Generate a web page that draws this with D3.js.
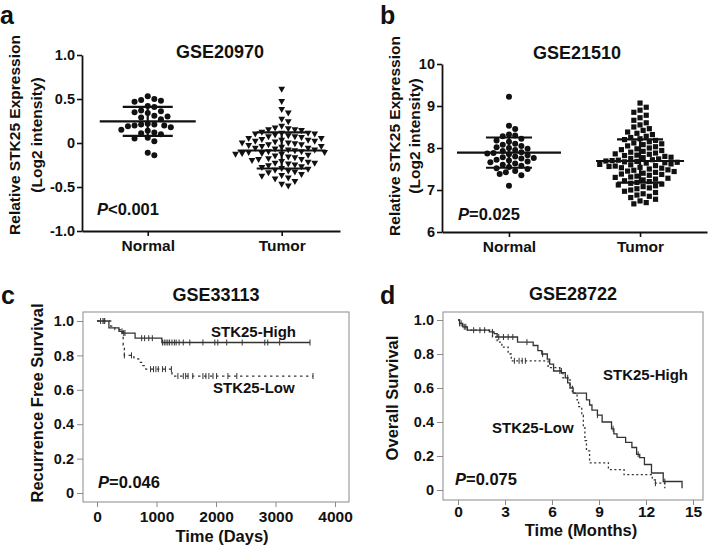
<!DOCTYPE html>
<html>
<head>
<meta charset="utf-8">
<script src="https://cdn.jsdelivr.net/npm/d3@7"></script>
<style>
body { margin: 0; background: #fff; }
svg { display: block; font-family: "Liberation Sans", Arial, sans-serif; }
text { fill: #111; font-weight: bold; }
</style>
</head>
<body>
<svg id="fig" width="709" height="548"></svg>
<script>
// ---- Data ----
const groups = ['Normal', 'Tumor'];

// panel a: GSE20970
const aNormal = [0.53, 0.50, 0.49, 0.48, 0.47, 0.42, 0.41, 0.37, 0.36, 0.35, 0.34, 0.31, 0.30, 0.29,
  0.27, 0.22, 0.21, 0.21, 0.20, 0.20, 0.19, 0.18, 0.15, 0.14, 0.12, 0.11, 0.10, 0.06, 0.05, 0.02, -0.11, -0.14];
const aTumor = [0.61, 0.47, 0.38, 0.34, 0.27, 0.24, 0.19, 0.17, 0.16, 0.15, 0.15, 0.14, 0.12, 0.11, 0.11,
  0.10, 0.10, 0.09, 0.08, 0.07, 0.07, 0.06, 0.05, 0.05, 0.04, 0.03, 0.03, 0.02, 0.02, 0.01, 0.00, 0.00,
  -0.01, -0.02, -0.02, -0.03, -0.04, -0.04, -0.05, -0.06, -0.06, -0.07, -0.08, -0.08, -0.09, -0.10, -0.10,
  -0.11, -0.11, -0.12, -0.12, -0.13, -0.13, -0.14, -0.15, -0.16, -0.17, -0.18, -0.19, -0.19, -0.20, -0.21,
  -0.22, -0.23, -0.23, -0.24, -0.25, -0.26, -0.27, -0.28, -0.29, -0.30, -0.31, -0.32, -0.33, -0.34, -0.36,
  -0.37, -0.38, -0.40, -0.41, -0.44, -0.47, -0.49];
const aMean = [0.245, -0.085];
const aSD = [0.165, 0.205];
const aTicks = [-1, -0.5, 0, 0.5, 1];
const aTickLabels = ['-1.0', '-0.5', '0', '0.5', '1.0'];

// panel b: GSE21510
const bNormal = [9.22, 8.53, 8.45, 8.32, 8.30, 8.28, 8.22, 8.18, 8.15, 8.10, 8.08, 8.05, 8.02, 8.00, 7.98,
  7.95, 7.93, 7.90, 7.88, 7.87, 7.85, 7.83, 7.80, 7.78, 7.76, 7.75, 7.72, 7.70, 7.68, 7.66, 7.63, 7.60,
  7.58, 7.55, 7.52, 7.50, 7.45, 7.42, 7.38, 7.35, 7.10];
const bTumor = [9.07, 8.97, 8.90, 8.85, 8.78, 8.72, 8.66, 8.60, 8.55, 8.50, 8.46, 8.42, 8.38, 8.35, 8.32,
  8.28, 8.25, 8.22, 8.20, 8.18, 8.15, 8.12, 8.10, 8.08, 8.05, 8.03, 8.00, 7.98, 7.96, 7.94, 7.92, 7.90,
  7.88, 7.86, 7.85, 7.83, 7.82, 7.80, 7.78, 7.77, 7.75, 7.74, 7.72, 7.71, 7.70, 7.69, 7.68, 7.67, 7.66,
  7.65, 7.64, 7.62, 7.61, 7.60, 7.58, 7.57, 7.56, 7.54, 7.53, 7.52, 7.50, 7.48, 7.47, 7.45, 7.44, 7.42,
  7.40, 7.38, 7.37, 7.35, 7.33, 7.31, 7.30, 7.28, 7.26, 7.24, 7.22, 7.20, 7.18, 7.16, 7.14, 7.12, 7.10,
  7.08, 7.05, 7.03, 7.00, 6.97, 6.94, 6.91, 6.88, 6.85, 6.82, 6.78, 6.74, 6.70, 6.67];
const bMean = [7.89, 7.69];
const bSD = [0.36, 0.515];
const bTicks = [6, 7, 8, 9, 10];

// panel c: GSE33113 recurrence free survival (days)
const cHighT = [0, 200, 370, 440, 640, 1090, 3580];
const cHighS = [1.0, 0.96, 0.94, 0.93, 0.90, 0.875, 0.875];
const cLowT = [0, 230, 300, 420, 440, 460, 620, 700, 760, 820, 1260, 3630];
const cLowS = [1.0, 0.97, 0.95, 0.93, 0.86, 0.80, 0.78, 0.76, 0.74, 0.72, 0.68, 0.68];
const cHighCens = [60, 120, 420, 450, 470, 750, 800, 870, 930, 1100, 1130, 1160, 1190, 1220, 1260, 1300,
  1330, 1380, 1450, 1560, 1780, 1980, 2030, 2180, 2440, 2820, 2870, 3070, 3580];
const cLowCens = [100, 130, 460, 580, 900, 950, 990, 1030, 1100, 1150, 1250, 1360, 1450, 1490, 1530, 1610,
  1780, 1830, 1880, 1950, 2010, 2200, 2350, 3630];
const cXTicks = [0, 1000, 2000, 3000, 4000];

// panel d: GSE28722 overall survival (months)
const dHighT = [0, 0.1, 0.3, 0.6, 2.0, 2.3, 2.5, 3.8, 4.8, 5.1, 5.35, 5.7, 5.85, 6.1, 6.6, 6.85, 7.0, 7.15,
  7.35, 8.2, 8.4, 8.55, 8.9, 9.2, 9.8, 9.95, 10.15, 10.7, 11.1, 11.4, 11.6, 11.9, 12.35, 13.1, 14.3];
const dHighS = [1.0, 0.98, 0.96, 0.94, 0.93, 0.92, 0.90, 0.87, 0.85, 0.82, 0.80, 0.77, 0.74, 0.70, 0.69,
  0.66, 0.63, 0.60, 0.57, 0.53, 0.50, 0.47, 0.44, 0.40, 0.36, 0.33, 0.31, 0.28, 0.25, 0.21, 0.19, 0.15,
  0.10, 0.05, 0.01];
const dLowT = [0, 0.1, 0.3, 0.6, 2.2, 2.5, 2.8, 3.2, 3.4, 5.75, 6.5, 6.7, 7.15, 7.3, 7.6, 7.7, 7.9, 8.0,
  8.1, 8.2, 8.4, 9.6, 10.6, 12.4, 12.6, 13.2];
const dLowS = [1.0, 0.98, 0.96, 0.94, 0.90, 0.87, 0.84, 0.80, 0.76, 0.72, 0.70, 0.66, 0.61, 0.57, 0.53,
  0.49, 0.44, 0.37, 0.29, 0.23, 0.16, 0.12, 0.09, 0.06, 0.04, 0.01];
const dHighCens = [0.2, 0.5, 1.0, 1.4, 1.7, 2.2, 2.6, 2.9, 3.2, 3.5, 4.4, 5.4, 6.5, 8.9, 9.9, 11.5, 13.2];
const dLowCens = [0.1, 0.4, 3.6, 3.9, 4.1, 4.3, 6.6, 7.0, 12.6];
const dXTicks = [0, 3, 6, 9, 12, 15];

const survTicks = [0, 0.2, 0.4, 0.6, 0.8, 1.0];
const fmtSurv = d => d === 0 ? '0' : d3.format('.1f')(d);

const svg = d3.select('#fig');
const ink = '#111';

// simple beeswarm: places each value at the closest free spot around the centre
function swarm(vals, cx, y, dia) {
  const out = [];
  vals.slice().sort((p, q) => q - p).forEach(v => {
    const py = y(v);
    let px = cx;
    for (let i = 0; i < 200; i++) {
      const off = i === 0 ? 0 : Math.ceil(i / 2) * (i % 2 ? 1 : -1) * dia * 0.5;
      px = cx + off;
      if (out.every(o => (o.x - px) ** 2 + (o.y - py) ** 2 >= dia * dia)) break;
    }
    out.push({ v: v, x: px, y: py });
  });
  return out;
}

function scatterPanel(opt) {
  const g = svg.append('g');
  const y = d3.scaleLinear().domain(opt.yDomain).range(opt.yRange);
  const x = d3.scalePoint().domain(groups).range([opt.x0, opt.x1]).padding(opt.pad).align(opt.align);

  // y axis
  const ya = g.append('g')
    .attr('transform', `translate(${opt.x0},0)`)
    .call(d3.axisLeft(y).tickValues(opt.ticks).tickFormat((d, i) => opt.tickLabels[i])
      .tickSize(5).tickSizeOuter(0).tickPadding(2));
  // x axis
  const xa = g.append('g')
    .attr('transform', `translate(0,${opt.yRange[0]})`)
    .call(d3.axisBottom(x).tickSize(5).tickSizeOuter(0).tickPadding(4));
  [ya, xa].forEach(a => {
    a.select('.domain').attr('stroke', ink).attr('stroke-width', 1.8);
    a.selectAll('.tick line').attr('stroke', ink).attr('stroke-width', 1.6);
    a.selectAll('text').attr('fill', ink).style('font-family', null).style('font-weight', 'bold');
  });
  ya.selectAll('text').style('font-size', '14.5px');
  xa.selectAll('text').style('font-size', '15.5px');

  // points
  [opt.normal, opt.tumor].forEach((vals, gi) => {
    const pts = swarm(vals, x(groups[gi]), y, opt.dia);
    const shape = opt.shapes[gi];
    const sel = g.append('g').selectAll('path').data(pts).enter().append('path')
      .attr('transform', d => `translate(${d.x},${d.y})`)
      .attr('fill', ink);
    if (shape === 'circle') sel.attr('d', 'M-3,0a3,3 0 1,0 6,0a3,3 0 1,0 -6,0');
    if (shape === 'tri') sel.attr('d', 'M-3.4,-2.6L3.4,-2.6L0,3.4Z');
    if (shape === 'square') sel.attr('d', 'M-2.6,-2.6h5.2v5.2h-5.2Z');

    // mean and SD bars
    const cx = x(groups[gi]);
    const m = opt.mean[gi], s = opt.sd[gi];
    const lines = [
      [cx - opt.meanHalf[gi], y(m), cx + opt.meanHalf[gi], y(m)],
      [cx - opt.sdHalf, y(m + s), cx + opt.sdHalf, y(m + s)],
      [cx - opt.sdHalf, y(m - s), cx + opt.sdHalf, y(m - s)],
      [cx, y(m + s), cx, y(m - s)]
    ];
    g.append('g').selectAll('line').data(lines).enter().append('line')
      .attr('x1', d => d[0]).attr('y1', d => d[1]).attr('x2', d => d[2]).attr('y2', d => d[3])
      .attr('stroke', ink).attr('stroke-width', 2.2);
  });

  // title
  g.append('text').attr('x', opt.titleX).attr('y', opt.titleY).attr('text-anchor', 'middle')
    .style('font-size', '18px').text(opt.title);

  // y label
  opt.yLabel.forEach((t, i) => {
    g.append('text')
      .attr('transform', `translate(${opt.yLabelX[i]},${opt.yLabelY}) rotate(-90)`)
      .attr('text-anchor', 'middle').style('font-size', '15.5px').text(t);
  });

  // p value
  const p = g.append('text').attr('x', opt.pX).attr('y', opt.pY).style('font-size', '16.5px');
  p.append('tspan').style('font-style', 'italic').text('P');
  p.append('tspan').text(opt.pText);
}

scatterPanel({
  yDomain: [-1, 1], yRange: [231, 55], ticks: aTicks, tickLabels: aTickLabels,
  x0: 82, x1: 340, pad: 0.463, align: 0.53,
  normal: aNormal, tumor: aTumor, mean: aMean, sd: aSD, dia: 6.6,
  shapes: ['circle', 'tri'], meanHalf: [48, 44], sdHalf: 25,
  title: 'GSE20970', titleX: 220, titleY: 58,
  yLabel: ['Relative STK25 Expression', '(Log2 intensity)'], yLabelX: [20, 42], yLabelY: 135,
  pX: 97, pY: 215, pText: '<0.001'
});

scatterPanel({
  yDomain: [6, 10], yRange: [232, 64], ticks: bTicks, tickLabels: bTicks.map(String),
  x0: 442, x1: 707, pad: 0.511, align: 0.5,
  normal: bNormal, tumor: bTumor, mean: bMean, sd: bSD, dia: 6.2,
  shapes: ['circle', 'square'], meanHalf: [52, 44], sdHalf: 23,
  title: 'GSE21510', titleX: 577, titleY: 59,
  yLabel: ['Relative STK25 Expression', '(Log2 intensity)'], yLabelX: [400, 420], yLabelY: 136,
  pX: 458, pY: 220, pText: '=0.025'
});

function kmPanel(opt) {
  const g = svg.append('g');
  const x = d3.scaleLinear().domain(opt.xDomain).range(opt.xRange);
  const y = d3.scaleLinear().domain([0, 1]).range(opt.yRange);
  const f = opt.frame;

  g.append('rect').attr('x', f[0]).attr('y', f[1]).attr('width', f[2] - f[0]).attr('height', f[3] - f[1])
    .attr('fill', 'none').attr('stroke', '#8a8a8a').attr('stroke-width', 1);

  const ya = g.append('g').attr('transform', `translate(${f[0]},0)`)
    .call(d3.axisLeft(y).tickValues(survTicks).tickFormat(fmtSurv).tickSize(6).tickPadding(3));
  const xa = g.append('g').attr('transform', `translate(0,${f[3]})`)
    .call(d3.axisBottom(x).tickValues(opt.xTicks).tickFormat(d3.format('d'))
      .tickSize(5).tickPadding(opt.xPad));
  [ya, xa].forEach(a => {
    a.select('.domain').remove();
    a.selectAll('.tick line').attr('stroke', '#8a8a8a');
    a.selectAll('text').attr('fill', ink).style('font-family', null).style('font-weight', 'bold');
  });
  ya.selectAll('text').style('font-size', '14.5px');
  xa.selectAll('text').style('font-size', '15.5px');

  const line = d3.line().x(d => x(d[0])).y(d => y(d[1])).curve(d3.curveStepAfter);
  const curves = [
    { t: opt.highT, s: opt.highS, cens: opt.highCens, dash: null },
    { t: opt.lowT, s: opt.lowS, cens: opt.lowCens, dash: opt.lowDash }
  ];
  curves.forEach(c => {
    g.append('path').datum(d3.zip(c.t, c.s)).attr('d', line)
      .attr('fill', 'none').attr('stroke', '#333').attr('stroke-width', 1.3)
      .attr('stroke-dasharray', c.dash);
    const sAt = t => c.s[Math.max(0, d3.bisectRight(c.t, t) - 1)];
    g.append('g').selectAll('line').data(c.cens).enter().append('line')
      .attr('x1', d => x(d)).attr('x2', d => x(d))
      .attr('y1', d => y(sAt(d)) - 3).attr('y2', d => y(sAt(d)) + 3)
      .attr('stroke', '#333').attr('stroke-width', 1);
  });

  g.append('text').attr('x', (f[0] + f[2]) / 2).attr('y', opt.titleY).attr('text-anchor', 'middle')
    .style('font-size', '18px').text(opt.title);
  g.append('text').attr('transform', `translate(${opt.yLabelX},${opt.yLabelY}) rotate(-90)`)
    .attr('text-anchor', 'middle').style('font-size', '16.5px').text(opt.yLabel);
  g.append('text').attr('x', opt.xLabelX).attr('y', opt.xLabelY).attr('text-anchor', 'middle')
    .style('font-size', '16.5px').text(opt.xLabel);
  opt.notes.forEach(n => {
    g.append('text').attr('x', n[1]).attr('y', n[2]).style('font-size', '15px').text(n[0]);
  });
  const p = g.append('text').attr('x', opt.pX).attr('y', opt.pY).style('font-size', '16.5px');
  p.append('tspan').style('font-style', 'italic').text('P');
  p.append('tspan').text(opt.pText);
}

kmPanel({
  xDomain: [0, 4000], xRange: [97, 335], yRange: [493, 321], frame: [83, 312, 349, 502],
  xTicks: cXTicks, xPad: 4, highT: cHighT, highS: cHighS, lowT: cLowT, lowS: cLowS,
  highCens: cHighCens, lowCens: cLowCens, lowDash: '2.5,3.5',
  title: 'GSE33113', titleY: 301,
  yLabel: 'Recurrence Free Survival', yLabelX: 43, yLabelY: 403,
  xLabel: 'Time (Days)', xLabelX: 222, xLabelY: 542,
  notes: [['STK25-High', 211, 337], ['STK25-Low', 213, 393]],
  pX: 98, pY: 488, pText: '=0.046'
});

kmPanel({
  xDomain: [0, 15], xRange: [458, 693], yRange: [490, 320], frame: [443, 312, 703, 500],
  xTicks: dXTicks, xPad: 1, highT: dHighT, highS: dHighS, lowT: dLowT, lowS: dLowS,
  highCens: dHighCens, lowCens: dLowCens, lowDash: '2,2.5',
  title: 'GSE28722', titleY: 300,
  yLabel: 'Overall Survival', yLabelX: 398, yLabelY: 398,
  xLabel: 'Time (Months)', xLabelX: 581, xLabelY: 536,
  notes: [['STK25-High', 603, 380], ['STK25-Low', 492, 433]],
  pX: 455, pY: 485, pText: '=0.075'
});

// panel letters
[['a', 0, 24], ['b', 380, 24], ['c', 1, 304], ['d', 380, 304]].forEach(l => {
  svg.append('text').attr('x', l[1]).attr('y', l[2]).style('font-size', '25px').text(l[0]);
});
</script>
</body>
</html>
